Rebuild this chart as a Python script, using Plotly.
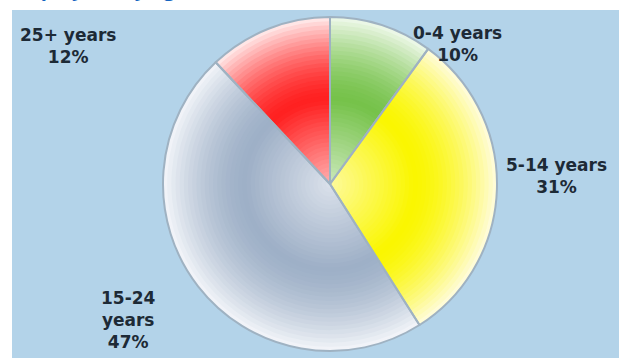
import plotly.graph_objects as go

# ---- data ----
categories = ["0-4 years", "5-14 years", "15-24 years", "25+ years"]
values = [10, 31, 47, 12]
title_text = "Employees by age"

# ---- style ----
W, H = 619, 358
edge_colors = [(240, 249, 236), (255, 252, 224), (244, 246, 250), (255, 238, 238)]
peak_colors = [(118, 194, 74), (250, 246, 0), (158, 176, 199), (255, 32, 32)]
label_pos = [(457, 44), (556, 176), (128, 320), (68, 46)]
label_wrap = [False, False, True, False]
cx, cy, R = 330, 184, 167
bg_blue = "#b3d3e9"


def mix(a, b, t):
    return "rgb(%d,%d,%d)" % tuple(round(a[i] + (b[i] - a[i]) * t) for i in range(3))


def profile(f):
    # saturation amount vs radius fraction
    if f <= 0.5:
        return 0.3 + 0.7 * (f / 0.5)
    return max(0.0, 1 - ((f - 0.5) / 0.5) ** 1.6)


fig = go.Figure()

n_layers = 40
for k in range(n_layers):
    f = 1.0 - k / n_layers
    r = f * R
    fmid = f - 0.5 / n_layers
    colors = [mix(edge_colors[i], peak_colors[i], profile(fmid)) for i in range(len(values))]
    fig.add_trace(go.Pie(
        labels=categories, values=values, sort=False, direction="clockwise", rotation=0,
        marker=dict(colors=colors, line=dict(width=0)),
        textinfo="none", hoverinfo="label+percent", showlegend=False,
        domain=dict(x=[(cx - r) / W, (cx + r) / W], y=[(H - cy - r) / H, (H - cy + r) / H]),
    ))

# borders between slices
fig.add_trace(go.Pie(
    labels=categories, values=values, sort=False, direction="clockwise", rotation=0,
    marker=dict(colors=["rgba(0,0,0,0)"] * len(values), line=dict(width=2, color="#9fb2c2")),
    textinfo="none", hoverinfo="skip", showlegend=False,
    domain=dict(x=[(cx - R) / W, (cx + R) / W], y=[(H - cy - R) / H, (H - cy + R) / H]),
))

annotations = []
for cat, val, (px, py), wrap in zip(categories, values, label_pos, label_wrap):
    txt = (cat.replace(" ", "<br>") if wrap else cat) + "<br>" + f"{val}%"
    annotations.append(dict(
        text="<b>" + txt + "</b>", x=px / W, y=1 - py / H, xref="paper", yref="paper",
        xanchor="center", yanchor="middle", showarrow=False,
        font=dict(family="DejaVu Sans", size=17, color="#1d2a36"),
    ))
annotations.append(dict(
    text="<b>" + title_text + "</b>", x=8 / W, y=1, xref="paper", yref="paper",
    xanchor="left", yanchor="bottom", yshift=-4, showarrow=False,
    font=dict(family="Open Sans", size=20, color="#1565c0"),
))

fig.update_layout(
    width=W, height=H,
    margin=dict(l=0, r=0, t=0, b=0),
    paper_bgcolor="white", plot_bgcolor="white",
    font=dict(family="DejaVu Sans"),
    annotations=annotations,
    shapes=[dict(type="rect", xref="paper", yref="paper", x0=12 / W, x1=1, y0=0, y1=1 - 10 / H,
                 fillcolor=bg_blue, line=dict(width=0), layer="below")],
)
fig.write_html("out.html", config={"displayModeBar": False},
               post_script="document.body.style.margin='0';document.body.style.overflow='hidden';")
